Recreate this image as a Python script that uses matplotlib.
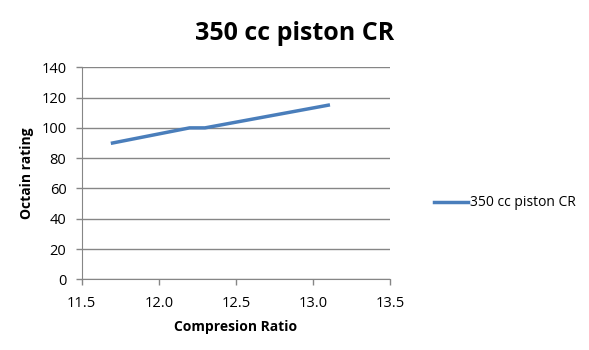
import matplotlib.pyplot as plt

# data
cr = [11.7, 12.2, 12.3, 13.1]
octane = [90, 100, 100, 115]
series_name = "350 cc piston CR"

plt.rcParams['font.family'] = ['Open Sans', 'DejaVu Sans']

fig = plt.figure(figsize=(5.89, 3.5), dpi=100)
ax = fig.add_axes([0.1387, 0.202, 0.5233, 0.6057])

ax.plot(cr, octane, color='#4A7EBB', linewidth=2.5, label=series_name)

ax.set_xlim(11.5, 13.5)
ax.set_ylim(0, 140)
ax.set_xticks([11.5, 12.0, 12.5, 13.0, 13.5])
ax.set_xticklabels(['11.5', '12.0', '12.5', '13.0', '13.5'])
ax.set_yticks(range(0, 141, 20))
ax.tick_params(labelsize=10.5, colors='#868686', labelcolor='black', length=4, width=1)
ax.tick_params(axis='y', pad=7)
ax.tick_params(axis='x', pad=8)

ax.yaxis.grid(True, color='#868686', linewidth=1)
ax.set_axisbelow(True)
for side in ['top', 'right']:
    ax.spines[side].set_visible(False)
for side in ['left', 'bottom']:
    ax.spines[side].set_color('#868686')

ax.set_xlabel('Compresion Ratio', fontsize=10, fontweight='bold', va='center')
ax.set_ylabel('Octain rating', fontsize=10, fontweight='bold', va='center')
ax.xaxis.set_label_coords(0.5, -0.225)
ax.yaxis.set_label_coords(-0.177, 0.5)

fig.text(0.5, 0.905, series_name, ha='center', va='center', fontsize=18, fontweight='bold')
fig.legend(loc='center left', bbox_to_anchor=(0.715, 0.42), frameon=False, fontsize=10,
           handlelength=2.5, handletextpad=0.1)

fig.savefig('out.png', dpi=100)
